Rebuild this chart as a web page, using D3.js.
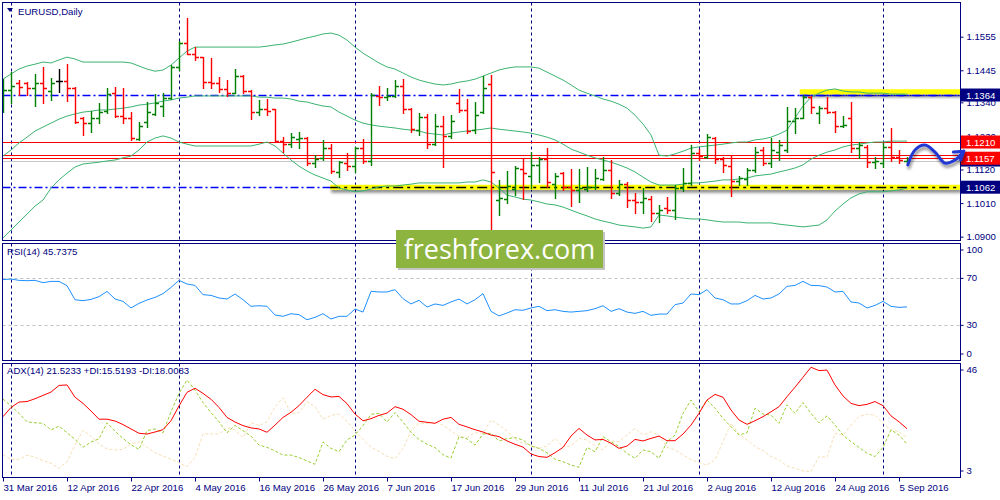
<!DOCTYPE html>
<html>
<head>
<meta charset="utf-8">
<title>EURUSD, Daily</title>
<script src="https://d3js.org/d3.v7.min.js"></script>
<style>
  body { margin: 0; background: #ffffff; }
  svg text { font-family: "Liberation Sans", Arial, sans-serif; font-size: 9.6px; }
</style>
</head>
<body>
<div id="chart"></div>
<script>

// ---- values (one bar per trading day, 31 Mar .. 6 Sep 2016) ----

const tickLabels = ["31 Mar 2016", "12 Apr 2016", "22 Apr 2016", "4 May 2016", "16 May 2016",
  "26 May 2016", "7 Jun 2016", "17 Jun 2016", "29 Jun 2016", "11 Jul 2016", "21 Jul 2016",
  "2 Aug 2016", "12 Aug 2016", "24 Aug 2016", "5 Sep 2016"];
const tickIdx = [0, 8, 16, 24, 32, 40, 48, 56, 64, 72, 80, 88, 96, 104, 112];
// first bar of each month (period separators)
const monthStartIdx = [1, 22, 44, 66, 87, 110];

const opens = [
  1.1364, 1.1380, 1.1403, 1.1403, 1.1387, 1.1403, 1.1377, 1.1410, 1.1410, 1.1387,
  1.1289, 1.1272, 1.1289, 1.1311, 1.1370, 1.1295, 1.1289, 1.1220, 1.1275, 1.1302,
  1.1328, 1.1354, 1.1456, 1.1534, 1.1498, 1.1488, 1.1406, 1.1403, 1.1384, 1.1370,
  1.1426, 1.1377, 1.1308, 1.1318, 1.1318, 1.1213, 1.1203, 1.1220, 1.1223, 1.1141,
  1.1158, 1.1190, 1.1112, 1.1141, 1.1131, 1.1190, 1.1148, 1.1361, 1.1357, 1.1361,
  1.1393, 1.1318, 1.1249, 1.1292, 1.1203, 1.1262, 1.1230, 1.1338, 1.1315, 1.1249,
  1.1308, 1.1400, 1.1020, 1.1023, 1.1056, 1.1122, 1.1099, 1.1135, 1.1154, 1.1072,
  1.1108, 1.1063, 1.1053, 1.1056, 1.1063, 1.1089, 1.1118, 1.1043, 1.1072, 1.1020,
  1.1014, 1.1023, 1.0977, 1.0994, 1.0987, 1.1060, 1.1075, 1.1174, 1.1161, 1.1223,
  1.1154, 1.1131, 1.1082, 1.1089, 1.1118, 1.1184, 1.1141, 1.1177, 1.1184, 1.1279,
  1.1289, 1.1357, 1.1305, 1.1321, 1.1308, 1.1262, 1.1289, 1.1190, 1.1194, 1.1144,
  1.1141, 1.1194, 1.1161, 1.1148];
const highs = [
  1.1416, 1.1439, 1.1413, 1.1406, 1.1432, 1.1456, 1.1420, 1.1449, 1.1465, 1.1390,
  1.1292, 1.1311, 1.1338, 1.1387, 1.1390, 1.1387, 1.1308, 1.1275, 1.1341, 1.1367,
  1.1370, 1.1462, 1.1540, 1.1616, 1.1521, 1.1488, 1.1485, 1.1423, 1.1413, 1.1449,
  1.1429, 1.1380, 1.1348, 1.1351, 1.1318, 1.1226, 1.1239, 1.1243, 1.1226, 1.1167,
  1.1217, 1.1203, 1.1148, 1.1174, 1.1194, 1.1220, 1.1370, 1.1393, 1.1387, 1.1413,
  1.1416, 1.1321, 1.1305, 1.1302, 1.1302, 1.1295, 1.1298, 1.1384, 1.1351, 1.1341,
  1.1426, 1.1429, 1.1086, 1.1115, 1.1131, 1.1158, 1.1177, 1.1161, 1.1190, 1.1108,
  1.1112, 1.1122, 1.1122, 1.1128, 1.1122, 1.1161, 1.1151, 1.1086, 1.1079, 1.1043,
  1.1059, 1.1033, 1.1004, 1.1030, 1.1070, 1.1125, 1.1200, 1.1187, 1.1236, 1.1226,
  1.1161, 1.1164, 1.1099, 1.1125, 1.1194, 1.1194, 1.1223, 1.1217, 1.1325, 1.1321,
  1.1364, 1.1361, 1.1328, 1.1357, 1.1311, 1.1295, 1.1341, 1.1210, 1.1200, 1.1161,
  1.1207, 1.1256, 1.1184, 1.1161];
const lows = [
  1.1308, 1.1338, 1.1364, 1.1364, 1.1328, 1.1338, 1.1348, 1.1374, 1.1344, 1.1272,
  1.1233, 1.1243, 1.1272, 1.1305, 1.1292, 1.1272, 1.1217, 1.1217, 1.1259, 1.1298,
  1.1295, 1.1350, 1.1446, 1.1498, 1.1479, 1.1387, 1.1387, 1.1374, 1.1361, 1.1370,
  1.1370, 1.1285, 1.1298, 1.1298, 1.1213, 1.1177, 1.1194, 1.1190, 1.1135, 1.1128,
  1.1151, 1.1108, 1.1095, 1.1118, 1.1112, 1.1141, 1.1135, 1.1331, 1.1348, 1.1357,
  1.1305, 1.1243, 1.1233, 1.1190, 1.1200, 1.1128, 1.1223, 1.1308, 1.1239, 1.1239,
  1.1305, 1.0912, 1.0971, 1.1010, 1.1036, 1.1023, 1.1059, 1.1079, 1.1063, 1.1027,
  1.1053, 1.1000, 1.1014, 1.1050, 1.1055, 1.1086, 1.1027, 1.1036, 1.0997, 1.0977,
  1.0977, 1.0951, 1.0948, 1.0977, 1.0958, 1.1050, 1.1069, 1.1151, 1.1158, 1.1141,
  1.1112, 1.1033, 1.1069, 1.1069, 1.1112, 1.1135, 1.1128, 1.1151, 1.1177, 1.1239,
  1.1289, 1.1305, 1.1272, 1.1305, 1.1243, 1.1259, 1.1177, 1.1158, 1.1128, 1.1125,
  1.1128, 1.1148, 1.1141, 1.1141];
const closes = [
  1.1380, 1.1393, 1.1390, 1.1387, 1.1403, 1.1387, 1.1403, 1.1410, 1.1387, 1.1275,
  1.1272, 1.1289, 1.1308, 1.1367, 1.1295, 1.1289, 1.1223, 1.1262, 1.1308, 1.1338,
  1.1354, 1.1456, 1.1534, 1.1498, 1.1488, 1.1406, 1.1403, 1.1384, 1.1370, 1.1426,
  1.1377, 1.1308, 1.1318, 1.1311, 1.1213, 1.1203, 1.1226, 1.1223, 1.1141, 1.1154,
  1.1190, 1.1115, 1.1144, 1.1131, 1.1190, 1.1148, 1.1364, 1.1357, 1.1361, 1.1393,
  1.1318, 1.1252, 1.1292, 1.1203, 1.1262, 1.1230, 1.1279, 1.1315, 1.1246, 1.1298,
  1.1387, 1.1112, 1.1027, 1.1066, 1.1125, 1.1108, 1.1135, 1.1154, 1.1079, 1.1099,
  1.1063, 1.1053, 1.1059, 1.1063, 1.1092, 1.1118, 1.1043, 1.1072, 1.1020, 1.1014,
  1.1027, 1.0977, 1.0987, 1.0987, 1.1060, 1.1075, 1.1174, 1.1164, 1.1226, 1.1154,
  1.1135, 1.1082, 1.1092, 1.1118, 1.1177, 1.1141, 1.1184, 1.1200, 1.1279, 1.1289,
  1.1357, 1.1325, 1.1321, 1.1308, 1.1262, 1.1266, 1.1190, 1.1200, 1.1144, 1.1148,
  1.1194, 1.1161, 1.1151, 1.1151];

// Bollinger Bands (20) as drawn
const bbUpper = [
  1.1416, 1.1433, 1.1449, 1.1459, 1.1465, 1.1472, 1.1469, 1.1479, 1.1488, 1.1482,
  1.1472, 1.1472, 1.1472, 1.1472, 1.1472, 1.1472, 1.1469, 1.1459, 1.1449, 1.1442,
  1.1446, 1.1462, 1.1485, 1.1508, 1.1521, 1.1521, 1.1521, 1.1521, 1.1521, 1.1521,
  1.1521, 1.1521, 1.1521, 1.1524, 1.1528, 1.1531, 1.1537, 1.1544, 1.1551, 1.1557,
  1.1564, 1.1567, 1.1560, 1.1544, 1.1521, 1.1501, 1.1485, 1.1469, 1.1456, 1.1449,
  1.1436, 1.1423, 1.1413, 1.1406, 1.1400, 1.1397, 1.1400, 1.1406, 1.1410, 1.1416,
  1.1426, 1.1436, 1.1446, 1.1452, 1.1456, 1.1456, 1.1456, 1.1452, 1.1439, 1.1426,
  1.1413, 1.1397, 1.1380, 1.1370, 1.1361, 1.1351, 1.1344, 1.1334, 1.1321, 1.1298,
  1.1269, 1.1233, 1.1167, 1.1164, 1.1171, 1.1180, 1.1190, 1.1194, 1.1197, 1.1200,
  1.1203, 1.1207, 1.1210, 1.1210, 1.1217, 1.1220, 1.1226, 1.1236, 1.1249, 1.1289,
  1.1328, 1.1357, 1.1370, 1.1380, 1.1384, 1.1377, 1.1374, 1.1374, 1.1370, 1.1370,
  1.1370, 1.1367, 1.1367, 1.1367];
const bbMiddle = [
  1.1164, 1.1184, 1.1207, 1.1226, 1.1246, 1.1259, 1.1272, 1.1285, 1.1295, 1.1302,
  1.1308, 1.1311, 1.1315, 1.1315, 1.1318, 1.1321, 1.1325, 1.1331, 1.1334, 1.1338,
  1.1344, 1.1348, 1.1354, 1.1357, 1.1361, 1.1361, 1.1361, 1.1361, 1.1361, 1.1361,
  1.1361, 1.1361, 1.1357, 1.1357, 1.1354, 1.1354, 1.1351, 1.1344, 1.1341, 1.1334,
  1.1328, 1.1325, 1.1308, 1.1295, 1.1282, 1.1272, 1.1266, 1.1262, 1.1259, 1.1256,
  1.1252, 1.1249, 1.1246, 1.1239, 1.1236, 1.1233, 1.1239, 1.1243, 1.1246, 1.1249,
  1.1252, 1.1256, 1.1252, 1.1249, 1.1246, 1.1243, 1.1239, 1.1233, 1.1226, 1.1217,
  1.1203, 1.1187, 1.1177, 1.1167, 1.1158, 1.1151, 1.1144, 1.1135, 1.1125, 1.1112,
  1.1095, 1.1079, 1.1069, 1.1069, 1.1069, 1.1072, 1.1076, 1.1076, 1.1079, 1.1082,
  1.1086, 1.1086, 1.1089, 1.1092, 1.1099, 1.1102, 1.1105, 1.1112, 1.1118, 1.1125,
  1.1135, 1.1154, 1.1167, 1.1177, 1.1184, 1.1194, 1.1200, 1.1203, 1.1207, 1.1210,
  1.1210, 1.1213, 1.1213, 1.1213];
const bbLower = [
  1.0896, 1.0922, 1.0948, 1.0974, 1.1000, 1.1020, 1.1059, 1.1086, 1.1108, 1.1128,
  1.1138, 1.1141, 1.1144, 1.1148, 1.1151, 1.1158, 1.1164, 1.1184, 1.1210, 1.1223,
  1.1230, 1.1223, 1.1210, 1.1203, 1.1197, 1.1197, 1.1197, 1.1197, 1.1197, 1.1197,
  1.1197, 1.1197, 1.1203, 1.1210, 1.1197, 1.1174, 1.1151, 1.1131, 1.1115, 1.1102,
  1.1092, 1.1082, 1.1059, 1.1053, 1.1047, 1.1050, 1.1056, 1.1063, 1.1066, 1.1066,
  1.1069, 1.1072, 1.1076, 1.1076, 1.1076, 1.1076, 1.1076, 1.1076, 1.1079, 1.1079,
  1.1086, 1.1079, 1.1059, 1.1036, 1.1030, 1.1023, 1.1020, 1.1014, 1.1007, 1.1004,
  1.0997, 1.0987, 1.0977, 1.0968, 1.0958, 1.0951, 1.0945, 1.0938, 1.0935, 1.0932,
  1.0928, 1.0932, 1.0971, 1.0968, 1.0964, 1.0961, 1.0958, 1.0958, 1.0955, 1.0951,
  1.0948, 1.0948, 1.0948, 1.0945, 1.0945, 1.0945, 1.0945, 1.0941, 1.0938, 1.0935,
  1.0932, 1.0935, 1.0938, 1.0955, 1.0984, 1.1007, 1.1027, 1.1040, 1.1047, 1.1047,
  1.1047, 1.1050, 1.1053, 1.1059];

const rsi = [
  68.9, 69.4, 68.3, 68.0, 68.3, 66.3, 67.4, 67.4, 63.8, 51.8,
  51.0, 52.1, 54.4, 58.9, 52.4, 50.4, 44.8, 48.7, 51.6, 53.8,
  57.0, 62.3, 68.3, 65.2, 64.0, 56.1, 55.5, 53.3, 52.4, 56.7,
  51.8, 46.2, 46.7, 46.2, 38.8, 37.7, 39.9, 39.1, 34.8, 36.8,
  39.9, 35.4, 37.7, 37.7, 43.9, 41.3, 58.9, 58.4, 58.4, 60.4,
  52.7, 48.2, 51.3, 45.6, 48.2, 47.0, 49.9, 52.4, 48.2, 51.8,
  57.0, 41.9, 38.0, 40.5, 43.3, 42.8, 44.8, 46.2, 42.5, 43.3,
  41.9, 41.3, 41.9, 42.5, 44.2, 46.7, 41.9, 44.2, 41.3, 40.2,
  41.9, 38.5, 39.6, 39.6, 47.6, 49.0, 56.7, 56.1, 60.4, 53.3,
  51.8, 48.2, 48.2, 51.0, 55.5, 52.4, 53.3, 56.7, 63.2, 64.0,
  67.4, 64.0, 63.8, 62.6, 58.4, 58.9, 49.9, 49.0, 44.8, 47.0,
  50.4, 46.2, 45.3, 45.7];

const adx = [
  26.2, 29.8, 31.9, 32.1, 33.2, 34.5, 35.8, 38.4, 38.6, 33.8,
  31.4, 28.4, 25.2, 25.2, 24.5, 23.1, 21.4, 19.7, 19.4, 20.2,
  21.1, 24.6, 30.4, 35.7, 37.3, 35.3, 33.0, 29.8, 25.9, 24.1,
  22.7, 21.8, 21.4, 20.1, 22.9, 25.9, 27.9, 30.5, 33.8, 36.9,
  34.8, 33.9, 34.1, 31.3, 27.2, 24.6, 25.4, 26.7, 27.6, 30.1,
  29.1, 27.0, 24.4, 24.0, 23.6, 25.2, 25.9, 23.2, 22.2, 21.1,
  20.2, 19.0, 18.4, 16.7, 15.4, 14.3, 11.6, 10.6, 10.3, 12.1,
  14.2, 18.6, 21.6, 19.0, 17.1, 17.3, 15.8, 13.8, 14.7, 17.3,
  16.7, 17.7, 18.6, 16.8, 16.8, 19.4, 22.9, 27.5, 32.7, 34.9,
  33.8, 28.8, 24.9, 23.2, 24.6, 26.2, 28.1, 30.1, 34.0, 37.7,
  41.6, 45.5, 44.2, 44.4, 38.6, 34.3, 31.4, 30.5, 31.0, 32.1,
  30.5, 26.5, 24.2, 21.5];
const plusDI = [
  33.1, 30.4, 27.5, 24.2, 23.8, 23.6, 21.0, 22.5, 19.9, 17.3,
  14.2, 16.3, 17.5, 23.8, 20.5, 17.7, 15.2, 13.4, 20.7, 21.4,
  19.9, 28.1, 35.3, 40.5, 36.6, 31.7, 27.8, 24.2, 19.9, 22.8,
  20.7, 18.6, 15.1, 14.2, 12.8, 11.2, 11.2, 10.2, 8.9, 7.6,
  16.3, 13.8, 12.5, 17.1, 19.0, 22.7, 27.1, 27.5, 24.1, 27.8,
  24.1, 20.1, 17.3, 15.4, 14.1, 11.3, 10.0, 18.4, 17.5, 15.1,
  19.4, 19.7, 16.7, 17.6, 18.0, 17.1, 14.7, 13.8, 12.1, 9.6,
  8.6, 7.3, 6.4, 14.2, 12.5, 18.4, 16.4, 14.5, 11.9, 9.9,
  13.2, 12.5, 9.9, 16.4, 19.0, 27.5, 32.7, 28.1, 32.7, 29.5,
  25.5, 22.3, 19.0, 19.9, 29.5, 27.2, 26.8, 23.6, 30.8, 27.5,
  31.7, 27.5, 23.8, 26.5, 22.9, 19.0, 16.4, 14.2, 11.9, 10.6,
  14.2, 21.0, 19.0, 15.5];
const minusDI = [
  11.3, 9.4, 9.5, 11.1, 10.4, 9.0, 8.0, 6.0, 8.6, 15.1,
  20.9, 18.6, 15.5, 13.6, 13.2, 13.4, 15.6, 16.3, 14.3, 12.1,
  10.8, 9.6, 8.2, 6.6, 10.3, 19.4, 19.5, 19.4, 21.9, 21.0,
  18.1, 23.8, 22.7, 24.2, 30.1, 33.6, 27.5, 27.8, 32.1, 30.1,
  25.2, 26.7, 27.2, 24.5, 20.6, 17.3, 14.2, 12.6, 10.7, 9.8,
  13.7, 20.7, 23.6, 23.6, 24.1, 22.9, 20.7, 18.4, 18.1, 19.9,
  19.7, 24.9, 22.9, 20.6, 17.3, 15.8, 15.1, 13.8, 14.7, 17.7,
  14.5, 14.7, 17.7, 17.1, 14.7, 13.2, 16.7, 16.4, 19.0, 21.6,
  19.0, 20.3, 19.0, 14.2, 13.2, 11.2, 9.5, 8.2, 7.3, 9.3,
  16.4, 23.6, 19.4, 17.1, 14.5, 12.9, 10.6, 9.3, 6.9, 6.0,
  5.0, 4.7, 10.6, 10.3, 19.7, 19.0, 22.9, 26.2, 27.2, 26.8,
  23.6, 21.0, 20.3, 18.0];

const priceTicks = [1.1555, 1.1445, 1.1340, 1.1230, 1.1120, 1.1010, 1.0900];
const rsiTicks = [100, 70, 30, 0];
const rsiLevels = [70, 30];
const adxTicks = [46, 3];

// analyst's marks
const redLevels = [1.1210, 1.1167, 1.1157];
const blueLevels = [1.1364, 1.1062];
const zonePrices = [1.1375, 1.1062];
const zoneStartIdx = [99.6, 40.9];
const navyTags = [1.1151, 1.1364, 1.1062];
const redTags = [1.1210, 1.1157];
const arrowIdx = [113.1, 114.0, 115.25, 116.5, 117.75, 119.0, 120.1];
const arrowPx = [1.1135, 1.1184, 1.1200, 1.1177, 1.1141, 1.1151, 1.1180];
const arrowHeadIdx = [118.8, 120.1, 119.7];
const arrowHeadPx = [1.1177, 1.1180, 1.1151];

// ---- layout ----
const W = 1000, H = 500;
const navy = "#000080";
const plotLeft = 2.5, plotRight = 960.5;
const mainTop = 2.5, mainBottom = 240.5;
const rsiTop = 243.5, rsiBottom = 360.5;
const adxTop = 363.5, adxBottom = 477.5;

const svg = d3.select("#chart").append("svg")
  .attr("width", W)
  .attr("height", H);
svg.append("rect").attr("width", W).attr("height", H).attr("fill", "#fff");

// scales
const x = d3.scaleLinear().domain([0, opens.length - 1]).range([3, 907]);
const yPrice = d3.scaleLinear().domain([1.08858, 1.16687]).range([241, 2]);
const yRsi = d3.scaleLinear().domain([0, 100]).range([360.6, 243.1]);
const yAdx = d3.scaleLinear().domain([3, 46]).range([476, 366]);
const px = i => Math.round(x(i)) + 0.5;

// clip paths + soft drop shadow
const defs = svg.append("defs");
[["clipMain", mainTop, mainBottom], ["clipRsi", rsiTop, rsiBottom], ["clipAdx", adxTop, adxBottom]]
  .forEach(([id, t, b]) => {
    defs.append("clipPath").attr("id", id).append("rect")
      .attr("x", plotLeft).attr("y", t)
      .attr("width", plotRight - plotLeft).attr("height", b - t);
  });
const shadow = defs.append("filter").attr("id", "shadow")
  .attr("filterUnits", "userSpaceOnUse")
  .attr("x", 0).attr("y", 0).attr("width", W).attr("height", H);
shadow.append("feGaussianBlur").attr("in", "SourceAlpha").attr("stdDeviation", 1.8).attr("result", "blur");
shadow.append("feOffset").attr("in", "blur").attr("dx", 1).attr("dy", 3).attr("result", "off");
shadow.append("feComponentTransfer").attr("in", "off").attr("result", "soft")
  .append("feFuncA").attr("type", "linear").attr("slope", 0.45);
const fm = shadow.append("feMerge");
fm.append("feMergeNode").attr("in", "soft");
fm.append("feMergeNode").attr("in", "SourceGraphic");

const gMain = svg.append("g").attr("clip-path", "url(#clipMain)");
const gRsi = svg.append("g").attr("clip-path", "url(#clipRsi)");
const gAdx = svg.append("g").attr("clip-path", "url(#clipAdx)");

// month separators in every panel
[[gMain, mainTop, mainBottom], [gRsi, rsiTop, rsiBottom], [gAdx, adxTop, adxBottom]]
  .forEach(([g, t, b]) => {
    g.selectAll(".sep").data(monthStartIdx).enter().append("line")
      .attr("class", "sep")
      .attr("x1", px).attr("x2", px)
      .attr("y1", t).attr("y2", b)
      .attr("stroke", navy)
      .attr("stroke-dasharray", "3,3");
  });

/*
  Main panel
*/

// horizontal levels
gMain.selectAll(".blue").data(blueLevels).enter().append("line")
  .attr("x1", plotLeft).attr("x2", plotRight)
  .attr("y1", d => Math.round(yPrice(d)) + 0.5).attr("y2", d => Math.round(yPrice(d)) + 0.5)
  .attr("stroke", "#0000ff")
  .attr("stroke-width", 1.3)
  .attr("stroke-dasharray", "8,3,2,3");

gMain.selectAll(".red").data(redLevels).enter().append("line")
  .attr("x1", plotLeft).attr("x2", plotRight)
  .attr("y1", d => Math.round(yPrice(d)) + 0.5).attr("y2", d => Math.round(yPrice(d)) + 0.5)
  .attr("stroke", "#ff0000");

// bid line
gMain.append("line")
  .attr("x1", plotLeft).attr("x2", plotRight)
  .attr("y1", Math.round(yPrice(closes[closes.length - 1])) + 1.5)
  .attr("y2", Math.round(yPrice(closes[closes.length - 1])) + 1.5)
  .attr("stroke", "#c8c8c8");

// yellow highlighted zones
zonePrices.forEach((p, k) => {
  gMain.append("line")
    .attr("x1", x(zoneStartIdx[k])).attr("x2", plotRight)
    .attr("y1", yPrice(p)).attr("y2", yPrice(p))
    .attr("stroke", "#ffff00")
    .attr("stroke-width", 5)
    .attr("filter", "url(#shadow)");
});
gMain.append("line")
  .attr("x1", x(zoneStartIdx[1])).attr("x2", plotRight)
  .attr("y1", Math.round(yPrice(blueLevels[1])) + 0.5).attr("y2", Math.round(yPrice(blueLevels[1])) + 0.5)
  .attr("stroke", "#000")
  .attr("stroke-width", 1.5)
  .attr("stroke-dasharray", "10,4,3,4");
gMain.append("line")
  .attr("x1", x(zoneStartIdx[0])).attr("x2", plotRight)
  .attr("y1", Math.round(yPrice(blueLevels[0])) + 0.5).attr("y2", Math.round(yPrice(blueLevels[0])) + 0.5)
  .attr("stroke", "#0000ff")
  .attr("stroke-width", 1.3)
  .attr("stroke-dasharray", "8,3,2,3");

// Bollinger bands
const bbLine = d3.line().x((d, i) => x(i)).y(d => yPrice(d));
[bbUpper, bbMiddle, bbLower].forEach(band => {
  gMain.append("path")
    .attr("d", bbLine(band))
    .attr("fill", "none")
    .attr("stroke", "#3cb371")
    .attr("stroke-width", 1);
});

// OHLC bars
const bar = gMain.selectAll(".bar")
  .data(d3.range(opens.length))
  .enter()
  .append("g")
    .attr("class", "bar")
    .attr("stroke", i => closes[i] > opens[i] ? "#008000" : (closes[i] < opens[i] ? "#ff0000" : "#000000"))
    .attr("stroke-width", 1.4);
bar.append("line")
  .attr("x1", px).attr("x2", px)
  .attr("y1", i => Math.round(yPrice(highs[i]))).attr("y2", i => Math.round(yPrice(lows[i])) + 1);
bar.append("line")
  .attr("x1", i => px(i) - 3.5).attr("x2", px)
  .attr("y1", i => Math.round(yPrice(opens[i])) + 0.5).attr("y2", i => Math.round(yPrice(opens[i])) + 0.5);
bar.append("line")
  .attr("x1", px).attr("x2", i => px(i) + 3.5)
  .attr("y1", i => Math.round(yPrice(closes[i])) + 0.5).attr("y2", i => Math.round(yPrice(closes[i])) + 0.5);

// title
svg.append("path").attr("d", "M7,8 L13,8 L10,12 Z").attr("fill", navy);
svg.append("text").attr("x", 18).attr("y", 15).attr("fill", navy).text("EURUSD,Daily");

/*
  RSI panel
*/
gRsi.selectAll(".lvl").data(rsiLevels).enter().append("line")
  .attr("x1", plotLeft).attr("x2", plotRight)
  .attr("y1", d => Math.round(yRsi(d)) + 0.5).attr("y2", d => Math.round(yRsi(d)) + 0.5)
  .attr("stroke", "#c0c0c0")
  .attr("stroke-dasharray", "3,3");
gRsi.append("path")
  .attr("d", d3.line().x((d, i) => x(i)).y(d => yRsi(d))(rsi))
  .attr("fill", "none")
  .attr("stroke", "#1e90ff")
  .attr("stroke-width", 1);
svg.append("text").attr("x", 7).attr("y", 255).attr("fill", navy).text("RSI(14) 45.7375");

/*
  ADX panel
*/
const adxLine = d3.line().x((d, i) => x(i)).y(d => yAdx(d));
gAdx.append("path").attr("d", adxLine(minusDI))
  .attr("fill", "none").attr("stroke", "#f5deb3").attr("stroke-dasharray", "3,2");
gAdx.append("path").attr("d", adxLine(plusDI))
  .attr("fill", "none").attr("stroke", "#9acd32").attr("stroke-dasharray", "3,2");
gAdx.append("path").attr("d", adxLine(adx))
  .attr("fill", "none").attr("stroke", "#ff0000").attr("stroke-width", 1);
svg.append("text").attr("x", 7).attr("y", 374).attr("fill", navy)
  .text("ADX(14) 21.5233 +DI:15.5193 -DI:18.0083");

// panel frames
[[mainTop, mainBottom], [rsiTop, rsiBottom], [adxTop, adxBottom]].forEach(([t, b]) => {
  svg.append("rect")
    .attr("x", plotLeft).attr("y", t)
    .attr("width", plotRight - plotLeft).attr("height", b - t)
    .attr("fill", "none")
    .attr("stroke", navy);
});

/*
  Axes
*/
const clampY = (v, t, b) => Math.max(t + 6.5, Math.min(b - 6.5, v));

svg.append("g")
  .attr("transform", `translate(${plotRight},0)`)
  .attr("color", navy)
  .call(d3.axisRight(yPrice).tickValues(priceTicks).tickSize(3).tickPadding(3).tickFormat(d3.format(".4f")))
  .call(g => g.select(".domain").remove());

svg.append("g")
  .attr("transform", `translate(${plotRight},0)`)
  .attr("color", navy)
  .call(d3.axisRight(yRsi).tickValues(rsiTicks).tickSize(3).tickPadding(3))
  .call(g => g.select(".domain").remove())
  .call(g => g.selectAll(".tick").attr("transform", d => `translate(0,${clampY(yRsi(d), rsiTop, rsiBottom)})`));

svg.append("g")
  .attr("transform", `translate(${plotRight},0)`)
  .attr("color", navy)
  .call(d3.axisRight(yAdx).tickValues(adxTicks).tickSize(3).tickPadding(3))
  .call(g => g.select(".domain").remove())
  .call(g => g.selectAll(".tick").attr("transform", d => `translate(0,${clampY(yAdx(d), adxTop, adxBottom)})`));

svg.append("g")
  .attr("transform", `translate(0,${adxBottom})`)
  .attr("color", navy)
  .call(d3.axisBottom(x).tickValues(tickIdx).tickSize(4).tickFormat((d, k) => tickLabels[k]))
  .call(g => g.select(".domain").remove())
  .call(g => g.selectAll("text").attr("text-anchor", "start").attr("x", 0));

// price tags on the right scale
navyTags.forEach(p => {
  svg.append("rect").attr("x", 961).attr("y", yPrice(p) - 6.5).attr("width", 39).attr("height", 13).attr("fill", navy);
  svg.append("text").attr("x", 966).attr("y", yPrice(p) + 3.5).attr("fill", "#fff").text(p.toFixed(4));
});
redTags.forEach(p => {
  svg.append("rect").attr("x", 961).attr("y", yPrice(p) - 6.5).attr("width", 39).attr("height", 13).attr("fill", "#ff0000");
  svg.append("text").attr("x", 966).attr("y", yPrice(p) + 3.5).attr("fill", "#fff").text(p.toFixed(4));
});

// hand-drawn forecast arrow
const arrowLine = d3.line().x(d => x(d[0])).y(d => yPrice(d[1])).curve(d3.curveCatmullRom.alpha(0.5));
const arrow = svg.append("g").attr("filter", "url(#shadow)")
  .attr("fill", "none").attr("stroke", "#2438d4").attr("stroke-width", 3)
  .attr("stroke-linecap", "round").attr("stroke-linejoin", "round");
arrow.append("path").attr("d", arrowLine(arrowIdx.map((d, k) => [d, arrowPx[k]])));
arrow.append("path").attr("d", d3.line().x(d => x(d[0])).y(d => yPrice(d[1]))(arrowHeadIdx.map((d, k) => [d, arrowHeadPx[k]])));

// watermark logo
const logo = svg.append("g");
logo.append("rect").attr("x", 398).attr("y", 232).attr("width", 207).attr("height", 38).attr("fill", "#c4c4c4");
logo.append("rect").attr("x", 396).attr("y", 230).attr("width", 207).attr("height", 38).attr("fill", "#8db43e");
logo.append("text")
  .attr("x", 499.5).attr("y", 259)
  .attr("text-anchor", "middle")
  .attr("fill", "#ffffff")
  .style("font-family", "'Open Sans', sans-serif")
  .style("font-size", "27px")
  .text("freshforex.com");

</script>
</body>
</html>
